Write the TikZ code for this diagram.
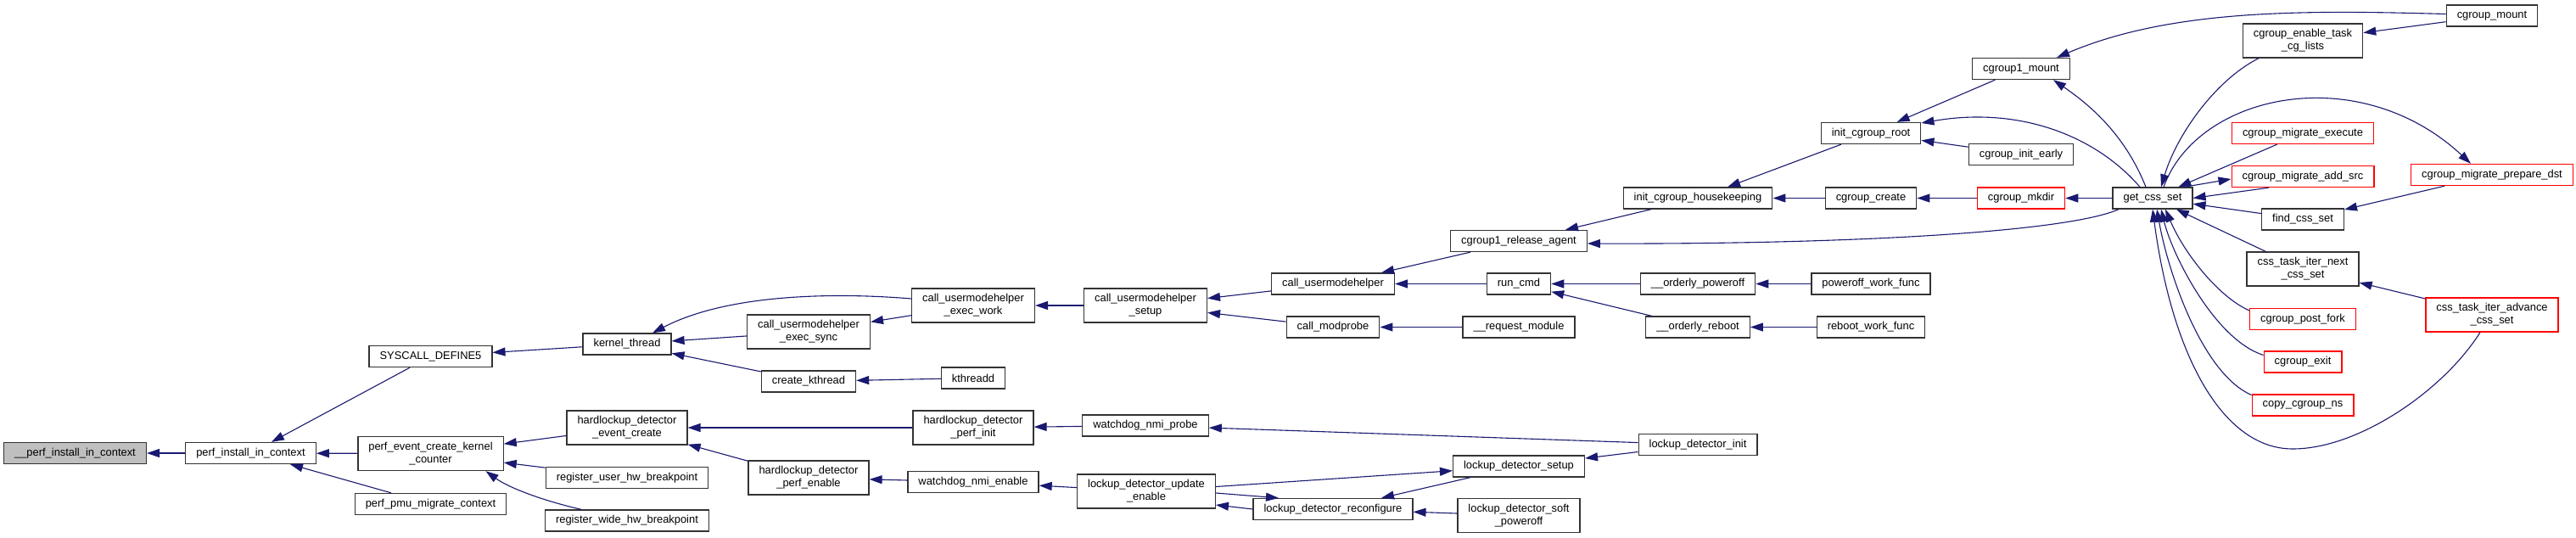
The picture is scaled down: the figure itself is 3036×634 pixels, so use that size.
\documentclass[tikz,border=0pt]{standalone}
\usepackage{fontspec}
\setmainfont{Liberation Sans}
\usetikzlibrary{arrows.meta}
\definecolor{edgeblue}{HTML}{191970}
\definecolor{boxgray}{HTML}{BFBFBF}

\begin{document}
\begin{tikzpicture}[x=1pt, y=-1pt,
    fn/.style={draw=black!80, line width=1.3pt, fill=white, inner xsep=12.5pt, inner ysep=2pt,
        minimum height=25pt, align=center, font={\fontsize{12.9pt}{15pt}\selectfont}},
    fntwo/.style={fn, minimum height=40pt},
    fnred/.style={fn, draw=red},
    call/.style={edgeblue, line width=1.1pt, -{Triangle[length=15pt, width=10pt]}}]
    \useasboundingbox (0,0) rectangle (3036,634);

    % functions, one column per rank
    \node[fn, fill=boxgray] (pinstallx) at (88.5,534) {\_\_perf\_install\_in\_context};
    \node[fn] (pinstall) at (295.5,534) {perf\_install\_in\_context};

    \node[fn] (syscall) at (507.5,420) {SYSCALL\_DEFINE5};
    \node[fntwo] (pecreate) at (507.5,534.5) {perf\_event\_create\_kernel\\\_counter};
    \node[fn] (pmumig) at (507.5,594) {perf\_pmu\_migrate\_context};

    \node[fn] (kthread) at (739,405.5) {kernel\_thread};
    \node[fntwo] (hlcreate) at (739,504) {hardlockup\_detector\\\_event\_create};
    \node[fn] (reguser) at (739,563) {register\_user\_hw\_breakpoint};
    \node[fn] (regwide) at (739,613.5) {register\_wide\_hw\_breakpoint};

    \node[fntwo] (umhsync) at (953,391) {call\_usermodehelper\\\_exec\_sync};
    \node[fn] (createkt) at (953,449.5) {create\_kthread};
    \node[fntwo] (hlenable) at (953,563) {hardlockup\_detector\\\_perf\_enable};

    \node[fntwo] (umhwork) at (1147,360) {call\_usermodehelper\\\_exec\_work};
    \node[fn] (kthreadd) at (1147,445.5) {kthreadd};
    \node[fntwo] (hlinit) at (1147,504) {hardlockup\_detector\\\_perf\_init};
    \node[fn] (nmienable) at (1147,568) {watchdog\_nmi\_enable};

    \node[fntwo] (umhsetup) at (1350,360) {call\_usermodehelper\\\_setup};
    \node[fn] (nmiprobe) at (1350,501.5) {watchdog\_nmi\_probe};
    \node[fntwo] (ldupdate) at (1351,579) {lockup\_detector\_update\\\_enable};

    \node[fn] (umh) at (1571,334.5) {call\_usermodehelper};
    \node[fn] (modprobe) at (1571,385.5) {call\_modprobe};
    \node[fn] (ldreconf) at (1571,600) {lockup\_detector\_reconfigure};

    \node[fn] (relagent) at (1790,284) {cgroup1\_release\_agent};
    \node[fn] (runcmd) at (1790,334.5) {run\_cmd};
    \node[fn] (reqmod) at (1790,385.5) {\_\_request\_module};
    \node[fn] (ldsetup) at (1790,549.5) {lockup\_detector\_setup};
    \node[fntwo] (ldsoft) at (1790,607.5) {lockup\_detector\_soft\\\_poweroff};

    \node[fn] (housekp) at (2001,233.5) {init\_cgroup\_housekeeping};
    \node[fn] (opoweroff) at (2001,334.5) {\_\_orderly\_poweroff};
    \node[fn] (oreboot) at (2001,385.5) {\_\_orderly\_reboot};
    \node[fn] (ldinit) at (2001,524) {lockup\_detector\_init};

    \node[fn] (cgroot) at (2205,157) {init\_cgroup\_root};
    \node[fn] (cgcreate) at (2205,233.5) {cgroup\_create};
    \node[fn] (pwfunc) at (2205,334.5) {poweroff\_work\_func};
    \node[fn] (rbfunc) at (2205,385.5) {reboot\_work\_func};

    \node[fn] (cg1mount) at (2382,81) {cgroup1\_mount};
    \node[fn] (cginit) at (2382,182) {cgroup\_init\_early};
    \node[fnred] (cgmkdir) at (2382,233.5) {cgroup\_mkdir};

    \node[fn] (getcss) at (2537,233.5) {get\_css\_set};

    \node[fntwo] (cgenable) at (2714,48) {cgroup\_enable\_task\\\_cg\_lists};
    \node[fnred] (migexec) at (2714,157) {cgroup\_migrate\_execute};
    \node[fnred] (migadd) at (2714,208) {cgroup\_migrate\_add\_src};
    \node[fn] (findcss) at (2714,258.5) {find\_css\_set};
    \node[fntwo] (iternext) at (2714,317) {css\_task\_iter\_next\\\_css\_set};
    \node[fnred] (postfork) at (2714,376) {cgroup\_post\_fork};
    \node[fnred] (cgexit) at (2714,426.5) {cgroup\_exit};
    \node[fnred] (copyns) at (2714,477.5) {copy\_cgroup\_ns};

    \node[fn] (cgmount) at (2937,18.5) {cgroup\_mount};
    \node[fnred] (migprep) at (2937,206) {cgroup\_migrate\_prepare\_dst};
    \node[fntwo, draw=red] (iteradv) at (2937,371) {css\_task\_iter\_advance\\\_css\_set};

    % calls into the perf side
    \draw[call] (pinstall) -- (pinstallx);
    \draw[call] (syscall) -- (pinstall);
    \draw[call] (pecreate) -- (pinstall);
    \draw[call] (pmumig) -- (pinstall);
    \draw[call] (kthread) -- (syscall);
    \draw[call] (hlcreate) -- (pecreate);
    \draw[call] (reguser) -- (pecreate);
    \draw[call] ([xshift=-54pt]regwide.north) .. controls (640,590) and (600,575) .. ([xshift=65pt]pecreate.south);

    % kernel threads and usermode helpers
    \draw[call] ([yshift=8pt]umhwork.west) .. controls (990,345) and (860,345) .. ([xshift=30pt]kthread.north);
    \draw[call] (umhsync) -- (kthread);
    \draw[call] (createkt) -- (kthread);
    \draw[call] (umhwork) -- (umhsync);
    \draw[call] (kthreadd) -- (createkt);
    \draw[call] (umhsetup) -- (umhwork);
    \draw[call] (umh) -- (umhsetup);
    \draw[call] (modprobe) -- (umhsetup);
    \draw[call] (relagent) -- (umh);
    \draw[call] (runcmd) -- (umh);
    \draw[call] (reqmod) -- (modprobe);
    \draw[call] (opoweroff) -- (runcmd);
    \draw[call] (oreboot) -- (runcmd);
    \draw[call] (pwfunc) -- (opoweroff);
    \draw[call] (rbfunc) -- (oreboot);

    % watchdog / lockup detector
    \draw[call] (hlinit) -- (hlcreate);
    \draw[call] (hlenable) -- (hlcreate);
    \draw[call] (nmiprobe) -- (hlinit);
    \draw[call] (nmienable) -- (hlenable);
    \draw[call] (ldupdate) -- (nmienable);
    \draw[call] (ldinit) -- (nmiprobe);
    \draw[call] (ldinit) -- (ldsetup);
    \draw[call] (ldupdate) -- (ldsetup);
    \draw[call] ([yshift=-2pt]ldupdate.east) -- ([xshift=-64pt]ldreconf.north);
    \draw[call] (ldreconf.west) -- ([yshift=-16pt]ldupdate.east);
    \draw[call] (ldsetup) -- (ldreconf);
    \draw[call] (ldsoft) -- (ldreconf);

    % cgroup side
    \draw[call] (housekp) -- (relagent);
    \draw[call] ([xshift=-40pt]getcss.south) .. controls (2440,272) and (2200,288) .. ([yshift=-3pt]relagent.east);
    \draw[call] (cgroot) -- (housekp);
    \draw[call] (cgcreate) -- (housekp);
    \draw[call] (cg1mount) -- (cgroot);
    \draw[call] (cginit) -- (cgroot);
    \draw[call] ([xshift=-15pt]getcss.north) .. controls (2470,160) and (2380,125) .. ([yshift=12pt]cgroot.east);
    \draw[call] (cgmkdir) -- (cgcreate);
    \draw[call] (getcss) -- (cgmkdir);
    \draw[call] ([xshift=-8pt]getcss.north) .. controls (2505,160) and (2465,125) .. ([xshift=38pt]cg1mount.south);
    \draw[call] ([yshift=2pt]cgmount.west) .. controls (2720,12) and (2560,10) .. ([xshift=42pt]cg1mount.north);
    \draw[call] (cgmount) -- (cgenable);
    \draw[call] ([xshift=-52pt]cgenable.south) .. controls (2610,95) and (2565,160) .. ([xshift=10pt]getcss.north);
    \draw[call] ([xshift=13pt]getcss.north) .. controls (2590,110) and (2780,70) .. ([xshift=-25pt]migprep.north);
    \draw[call] (migexec) -- (getcss);
    \draw[call] ([xshift=37pt]getcss.north) -- ([yshift=-3pt]migadd.west);
    \draw[call] ([xshift=-40pt]migadd.south) -- (getcss.east);
    \draw[call] (findcss) -- (getcss);
    \draw[call] (migprep) -- (findcss);
    \draw[call] (iternext) -- (getcss);
    \draw[call] (iteradv) -- (iternext);
    \draw[call] ([yshift=10pt]postfork.west) .. controls (2615,350) and (2575,300) .. ([xshift=15pt]getcss.south);
    \draw[call] ([yshift=8pt]cgexit.west) .. controls (2610,400) and (2560,300) .. ([xshift=10pt]getcss.south);
    \draw[call] ([yshift=12pt]copyns.west) .. controls (2595,440) and (2555,320) .. ([xshift=5pt]getcss.south);
    \draw[call] ([xshift=-14pt]iteradv.south) .. controls (2880,460) and (2780,529) .. (2702,529)
        .. controls (2620,529) and (2560,420) .. (getcss.south);
\end{tikzpicture}
\end{document}
